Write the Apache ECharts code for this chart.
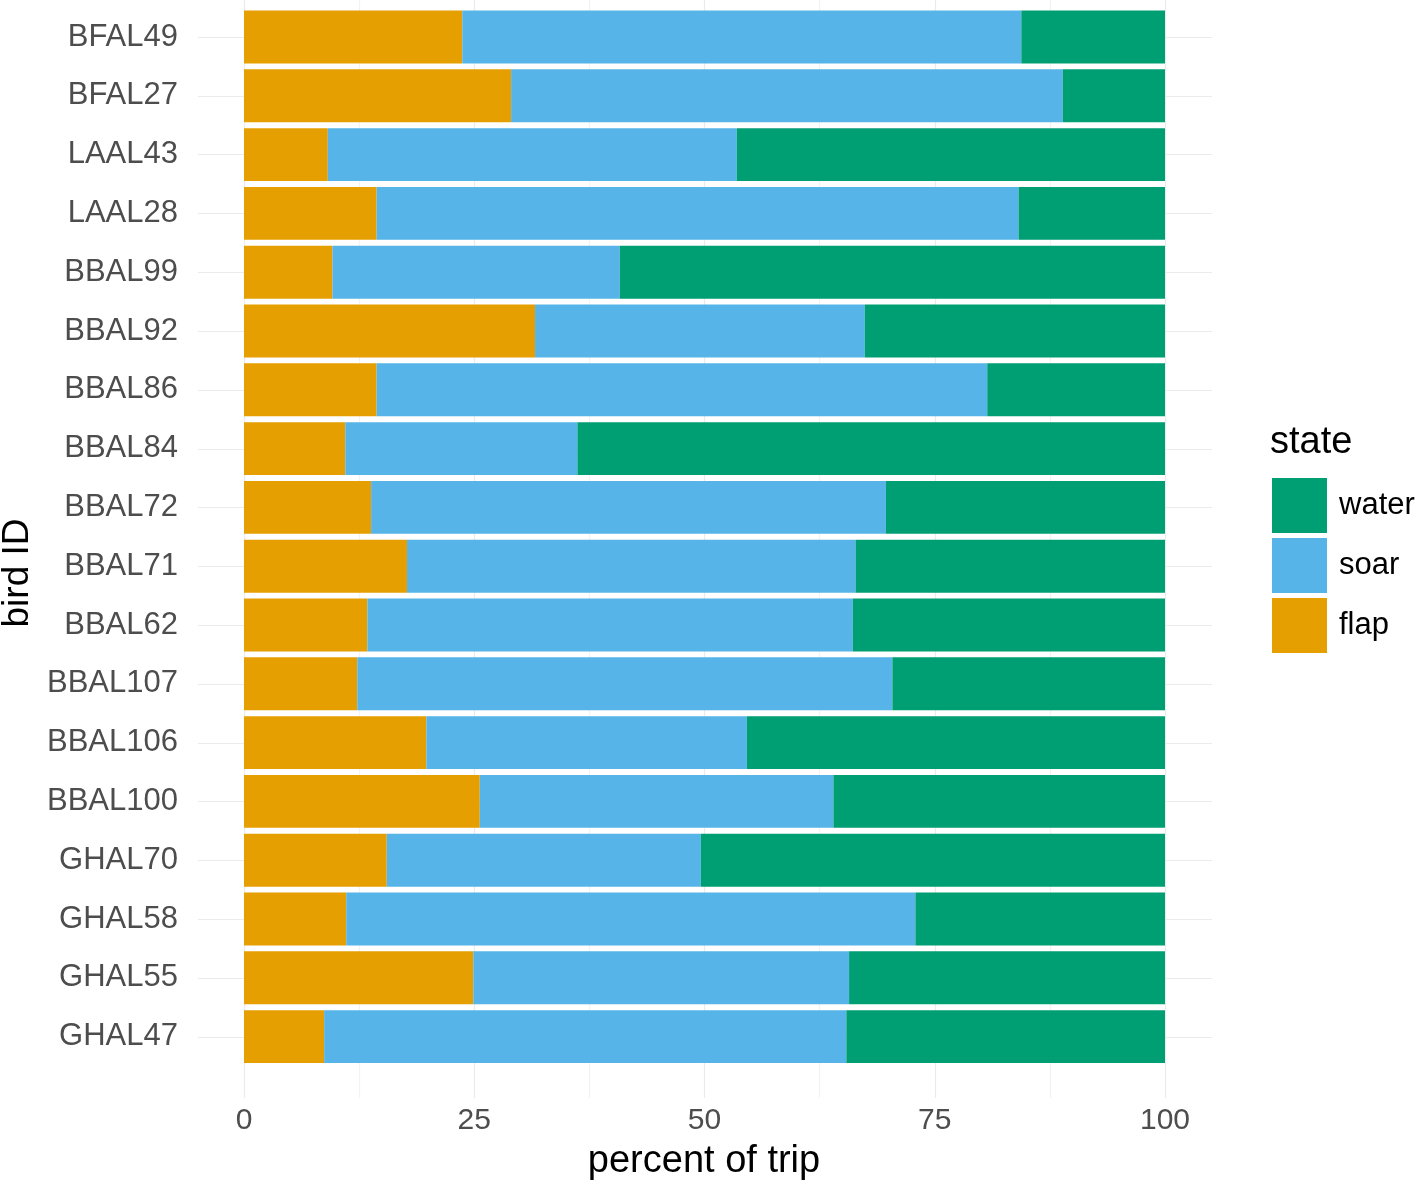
<!DOCTYPE html>
<html>
<head>
<meta charset="utf-8">
<script src="https://cdn.jsdelivr.net/npm/echarts@6/dist/echarts.min.js"></script>
<style>
html,body{margin:0;padding:0;background:#fff;}
#chart{width:1418px;height:1184px;}
</style>
</head>
<body>
<div id="chart"></div>
<script>
const birds = ['BFAL49','BFAL27','LAAL43','LAAL28','BBAL99','BBAL92','BBAL86','BBAL84','BBAL72','BBAL71','BBAL62','BBAL107','BBAL106','BBAL100','GHAL70','GHAL58','GHAL55','GHAL47'];
const flap  = [23.7, 29.0,  9.1, 14.4,  9.6, 31.6, 14.4, 11.0, 13.8, 17.7, 13.4, 12.3, 19.8, 25.6, 15.5, 11.1, 24.9,  8.7];
const soar  = [60.7, 59.9, 44.4, 69.7, 31.2, 35.8, 66.3, 25.2, 55.9, 48.7, 52.7, 58.1, 34.8, 38.4, 34.1, 61.8, 40.8, 56.7];
const water = [15.6, 11.1, 46.5, 15.9, 59.2, 32.6, 19.3, 63.8, 30.3, 33.6, 33.9, 29.6, 45.4, 36.0, 50.4, 27.1, 34.3, 34.6];
const xTicks = [0, 25, 50, 75, 100];
const legendOrder = ['water', 'soar', 'flap'];

const FONT = "'Liberation Sans', Arial, Helvetica, sans-serif";
const chart = echarts.init(document.getElementById('chart'), null, {renderer: 'canvas'});

const colors = {flap: '#E69F00', soar: '#56B4E9', water: '#009E73'};
function barSeries(name, data) {
  return {
    name: name, type: 'bar', stack: 'total',
    xAxisIndex: 0, yAxisIndex: 0,
    barCategoryGap: '10%',
    itemStyle: {color: colors[name]},
    emphasis: {disabled: true},
    data: data
  };
}

const option = {
  animation: false,
  backgroundColor: '#ffffff',
  textStyle: {fontFamily: FONT},
  grid: [
    {left: 244, width: 921, top: 7.6, height: 1058.4},   // bars
    {left: 198, width: 1014, top: 37, height: 1000},     // horizontal gridlines
    {left: 244, width: 921, top: 0, height: 1098}        // vertical gridlines + x labels
  ],
  xAxis: [
    {gridIndex: 0, type: 'value', min: 0, max: 100, show: false},
    {gridIndex: 1, type: 'value', min: 0, max: 100, show: false},
    {gridIndex: 2, type: 'value', min: 0, max: 100, interval: 12.5,
      axisLine: {show: false}, axisTick: {show: false},
      splitLine: {show: true, lineStyle: {color: ['#EBEBEB', '#F3F3F3'], width: 1.2}},
      axisLabel: {
        show: true, margin: 8, fontSize: 30, color: '#4D4D4D', fontFamily: FONT,
        formatter: function (v) { return xTicks.indexOf(v) >= 0 ? String(v) : ''; }
      }
    }
  ],
  yAxis: [
    {gridIndex: 0, type: 'category', data: birds, inverse: true,
      axisLine: {show: false}, axisTick: {show: false}, splitLine: {show: false},
      axisLabel: {margin: 66, fontSize: 31, color: '#4D4D4D', fontFamily: FONT, padding: [4, 0, 0, 0]}
    },
    {gridIndex: 1, type: 'value', min: 1, max: 18, interval: 1,
      axisLine: {show: false}, axisTick: {show: false}, axisLabel: {show: false},
      splitLine: {show: true, lineStyle: {color: '#EBEBEB', width: 1.2}}
    },
    {gridIndex: 2, type: 'value', min: 0, max: 1, show: false}
  ],
  legend: {
    orient: 'vertical', left: 1267, top: 473,
    data: legendOrder, icon: 'rect', itemWidth: 55, itemHeight: 55, itemGap: 5,
    textStyle: {fontSize: 31, color: '#000', fontFamily: FONT, padding: [0, 0, 0, 7]},
    selectedMode: false
  },
  graphic: [
    {type: 'text', left: 1270, top: 424, style: {text: 'state', fill: '#000', font: "38px 'Liberation Sans', Arial, sans-serif"}},
    {type: 'text', x: 18, y: 573, rotation: Math.PI / 2,
      style: {text: 'bird ID', fill: '#000', align: 'center', verticalAlign: 'middle', font: "37px 'Liberation Sans', Arial, sans-serif"}},
    {type: 'text', x: 704, y: 1162,
      style: {text: 'percent of trip', fill: '#000', align: 'center', verticalAlign: 'middle', font: "38px 'Liberation Sans', Arial, sans-serif"}}
  ],
  series: [
    barSeries('flap', flap),
    barSeries('soar', soar),
    barSeries('water', water)
  ]
};
chart.setOption(option);
</script>
</body>
</html>
